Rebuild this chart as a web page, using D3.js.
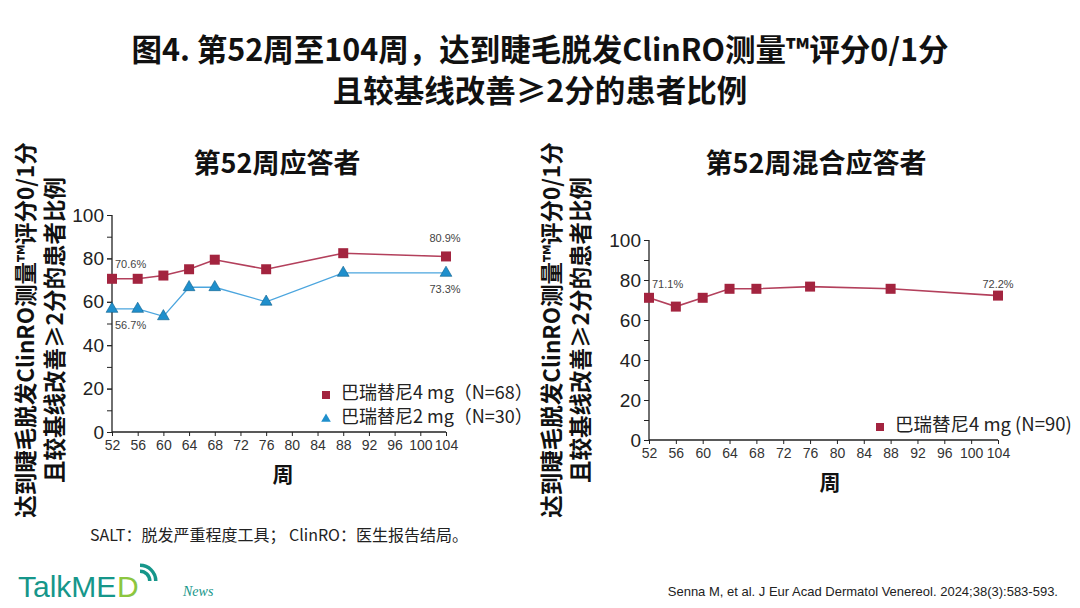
<!DOCTYPE html>
<html>
<head>
<meta charset="utf-8">
<script src="https://cdn.jsdelivr.net/npm/d3@7"></script>
<style>
  body { margin: 0; background: #fff; }
  svg { display: block; font-family: "Noto Sans CJK SC", "Noto Sans", sans-serif; }
</style>
</head>
<body>
<script>
// data
var weeks = [52, 56, 60, 64, 68, 76, 88, 104];
var xTicks = [52, 56, 60, 64, 68, 72, 76, 80, 84, 88, 92, 96, 100, 104];
var yTicks = [0, 20, 40, 60, 80, 100];
var respond4mg = [70.6, 70.6, 72.1, 75.0, 79.4, 75.0, 82.4, 80.9];
var respond2mg = [56.7, 56.7, 53.3, 66.7, 66.7, 60.0, 73.3, 73.3];
var mixed4mg = [71.1, 66.7, 71.1, 75.6, 75.6, 76.7, 75.6, 72.2];

var titleLines = ['图4. 第52周至104周，达到睫毛脱发ClinRO测量™评分0/1分', '且较基线改善≥2分的患者比例'];
var yTitleLines = ['达到睫毛脱发ClinRO测量™评分0/1分', '且较基线改善≥2分的患者比例'];

var red = '#a3243f', redLine = '#b3405c';
var blue = '#1f8fcc', blueLine = '#4ba5de';

var W = 1080, H = 608;
var svg = d3.select('body').append('svg').attr('width', W).attr('height', H);

svg.selectAll('.main-title')
  .data(titleLines)
  .enter().append('text')
    .attr('class', 'main-title')
    .attr('x', 540)
    .attr('y', function(d, i) { return 61 + i * 41; })
    .attr('text-anchor', 'middle')
    .attr('font-size', 30.5)
    .attr('font-weight', 700)
    .attr('fill', '#111')
    .text(function(d) { return d; });

function drawPanel(opt) {
  var x = d3.scaleLinear().domain([52, 104]).range([opt.left, opt.right]);
  var y = d3.scaleLinear().domain([0, 100]).range([opt.bottom, opt.top]);
  var g = svg.append('g');

  g.append('text')
    .attr('x', opt.titleX).attr('y', 173)
    .attr('text-anchor', 'middle')
    .attr('font-size', 27).attr('font-weight', 700).attr('fill', '#111')
    .text(opt.title);

  // rotated y title, two lines
  yTitleLines.forEach(function(t, i) {
    g.append('text')
      .attr('transform', 'translate(' + (opt.yTitleX + i * 29) + ',330) rotate(-90)')
      .attr('text-anchor', 'middle')
      .attr('font-size', 22.5).attr('font-weight', 700).attr('fill', '#111')
      .text(t);
  });

  // minor y ticks every 10
  g.append('g')
    .attr('transform', 'translate(' + opt.left + ',0)')
    .call(d3.axisLeft(y).tickValues(d3.range(0, 101, 10)).tickSize(5).tickFormat(''))
    .call(function(s) { s.select('.domain').remove(); s.selectAll('line').attr('stroke', '#222'); });

  var ya = g.append('g')
    .attr('transform', 'translate(' + opt.left + ',0)')
    .call(d3.axisLeft(y).tickValues(yTicks).tickSize(5).tickPadding(3));
  ya.select('.domain').attr('stroke', '#222').attr('stroke-width', 1.3).attr('d', 'M0,' + opt.top + 'V' + opt.bottom);
  ya.selectAll('line').attr('stroke', '#222');
  ya.selectAll('text').attr('font-family', 'Liberation Sans, Arial, sans-serif').attr('font-size', 19).attr('fill', '#222');

  var xa = g.append('g')
    .attr('transform', 'translate(0,' + opt.bottom + ')')
    .call(d3.axisBottom(x).tickValues(xTicks).tickSize(4).tickPadding(4));
  xa.select('.domain').attr('stroke', '#222').attr('stroke-width', 1.3).attr('d', 'M' + opt.left + ',0H' + opt.right);
  xa.selectAll('line').attr('stroke', '#222');
  xa.selectAll('text').attr('font-family', 'Liberation Sans, Arial, sans-serif').attr('font-size', 14).attr('fill', '#333');

  g.append('text')
    .attr('x', opt.xTitleX).attr('y', opt.bottom + 50)
    .attr('text-anchor', 'middle')
    .attr('font-size', 21).attr('font-weight', 700).attr('fill', '#111')
    .text('周');

  var line = d3.line()
    .x(function(d, i) { return x(weeks[i]); })
    .y(function(d) { return y(d); });

  opt.series.forEach(function(s) {
    g.append('path')
      .datum(s.values)
      .attr('d', line)
      .attr('fill', 'none')
      .attr('stroke', s.lineColor)
      .attr('stroke-width', s.shape == 'square' ? 1.6 : 1.3);

    g.selectAll(null)
      .data(s.values)
      .enter().append('path')
        .attr('transform', function(d, i) { return 'translate(' + x(weeks[i]) + ',' + y(d) + ')'; })
        .attr('d', d3.symbol().type(s.shape == 'square' ? d3.symbolSquare : d3.symbolTriangle).size(s.shape == 'square' ? 100 : 60))
        .attr('fill', s.color)
        .attr('stroke', s.shape == 'square' ? 'none' : '#0d5f8c')
        .attr('stroke-width', 0.6);
  });

  opt.labels.forEach(function(l) {
    g.append('text')
      .attr('x', x(l.week) + l.dx).attr('y', y(l.value) + l.dy)
      .attr('text-anchor', l.anchor)
      .attr('font-family', 'Liberation Sans, Arial, sans-serif')
      .attr('font-size', 11).attr('fill', '#444')
      .text(l.value.toFixed(1) + '%');
  });

  opt.legend.forEach(function(l, i) {
    var ly = opt.legendY + i * 24;
    g.append('path')
      .attr('transform', 'translate(' + opt.legendX + ',' + (ly + 3) + ')')
      .attr('d', d3.symbol().type(l.shape == 'square' ? d3.symbolSquare : d3.symbolTriangle).size(l.shape == 'square' ? 64 : 40))
      .attr('fill', l.color);
    g.append('text')
      .attr('x', opt.legendX + 15).attr('y', ly + 7)
      .attr('font-size', opt.legendSize).attr('fill', '#222')
      .text(l.label);
  });
}

drawPanel({
  left: 112, right: 446, top: 215, bottom: 432,
  title: '第52周应答者', titleX: 277, yTitleX: 34, xTitleX: 283,
  series: [
    { values: respond4mg, color: red, lineColor: redLine, shape: 'square' },
    { values: respond2mg, color: blue, lineColor: blueLine, shape: 'triangle' }
  ],
  labels: [
    { week: 52, value: respond4mg[0], dx: 3, dy: -11, anchor: 'start' },
    { week: 52, value: respond2mg[0], dx: 3, dy: 20, anchor: 'start' },
    { week: 104, value: respond4mg[7], dx: -1, dy: -14, anchor: 'middle' },
    { week: 104, value: respond2mg[7], dx: -1, dy: 20, anchor: 'middle' }
  ],
  legendX: 326, legendY: 392, legendSize: 18,
  legend: [
    { label: '巴瑞替尼4 mg（N=68）', color: red, shape: 'square' },
    { label: '巴瑞替尼2 mg（N=30）', color: blue, shape: 'triangle' }
  ]
});

drawPanel({
  left: 649, right: 998, top: 240, bottom: 440,
  title: '第52周混合应答者', titleX: 816, yTitleX: 560, xTitleX: 830,
  series: [
    { values: mixed4mg, color: red, lineColor: redLine, shape: 'square' }
  ],
  labels: [
    { week: 52, value: mixed4mg[0], dx: 3, dy: -10, anchor: 'start' },
    { week: 104, value: mixed4mg[7], dx: 0, dy: -8, anchor: 'middle' }
  ],
  legendX: 880, legendY: 424, legendSize: 18.5,
  legend: [
    { label: '巴瑞替尼4 mg (N=90)', color: red, shape: 'square' }
  ]
});

// footnote and source
svg.append('text')
  .attr('x', 90).attr('y', 541)
  .attr('font-size', 16).attr('fill', '#222')
  .text('SALT：脱发严重程度工具； ClinRO：医生报告结局。');

svg.append('text')
  .attr('x', 1058).attr('y', 596)
  .attr('text-anchor', 'end')
  .attr('font-family', 'Liberation Sans Narrow, Liberation Sans, sans-serif')
  .attr('font-size', 13).attr('fill', '#222')
  .text('Senna M, et al. J Eur Acad Dermatol Venereol. 2024;38(3):583-593.');

// TalkMED logo
var logo = svg.append('g').attr('transform', 'translate(18,597)');
logo.append('text')
  .attr('font-family', 'Liberation Sans, Arial, sans-serif')
  .attr('font-size', 30).attr('fill', '#16968a')
  .text('TalkME');
logo.append('text')
  .attr('x', 99)
  .attr('font-family', 'Liberation Sans, Arial, sans-serif')
  .attr('font-size', 30).attr('fill', '#8cc63f')
  .text('D');
[8, 14].forEach(function(r) {
  logo.append('path')
    .attr('d', d3.arc().innerRadius(r).outerRadius(r + 3.5).startAngle(0).endAngle(Math.PI / 2)())
    .attr('transform', 'translate(122,-16)')
    .attr('fill', '#16968a');
});
svg.append('text')
  .attr('x', 183).attr('y', 596)
  .attr('font-family', 'Liberation Serif, serif')
  .attr('font-style', 'italic')
  .attr('font-size', 14).attr('fill', '#16968a')
  .text('News');
</script>
</body>
</html>
